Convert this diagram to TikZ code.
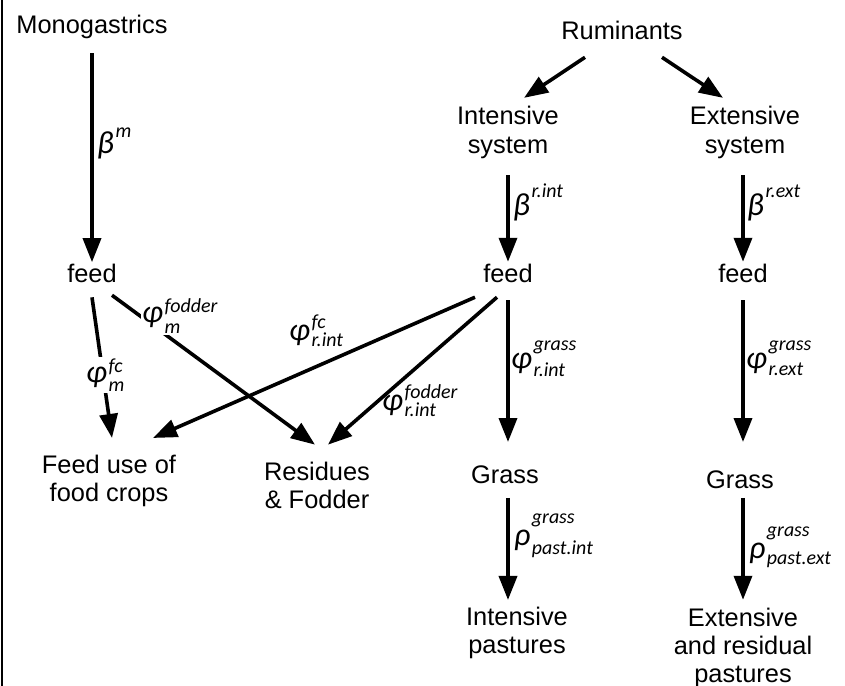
\documentclass[tikz,border=0pt]{standalone}
\usepackage{fontspec}
\setmainfont{Liberation Sans}
\newfontfamily\carlfam{Carlito}
\usetikzlibrary{arrows.meta,calc}
\newsavebox\glsupbox
\newsavebox\glsubbox
\newcommand\glbig{\fontsize{32}{32}\selectfont\carlfam\itshape}
\newcommand\glsml{\fontsize{20}{20}\selectfont\carlfam\itshape}
% base, sup, sub, raise, lower
\newcommand\glab[5]{\sbox\glsupbox{\glsml #2}\sbox\glsubbox{\glsml #3}%
  \mbox{{\glbig #1}\kern1.5bp\rlap{\raisebox{#4}{\usebox\glsupbox}}\raisebox{-#5}{\usebox\glsubbox}%
  \ifdim\wd\glsupbox>\wd\glsubbox\kern\dimexpr\wd\glsupbox-\wd\glsubbox\relax\fi}}
% base, sup, raise
\newcommand\glsup[3]{\mbox{{\glbig #1}\kern1.5bp\raisebox{#3}{\glsml #2}}}
\begin{document}
\begin{tikzpicture}[x=1bp,y=-1bp,
  box/.style={inner sep=0pt,outer sep=0pt,font=\fontsize{25.5}{28.5}\selectfont,align=center},
  arr/.style={line width=3.6bp,-{Triangle[length=24bp,width=18bp]}},
  lab/.style={inner sep=0pt,anchor=base west},
  gap/.style={fill=white,inner sep=1.5bp,anchor=base west}]
\useasboundingbox (0,0) rectangle (845,686);
\draw[line width=1.2bp] (2,0) -- (2,686);
% nodes
\node[box] (mono) at (92,26.5) {Monogastrics};
\node[box] (rum) at (622,30) {Ruminants};
\node[box] (isys) at (508,132.5) {Intensive\\system};
\node[box] (esys) at (745,132.5) {Extensive\\system};
\node[box] (feedm) at (92,273.5) {feed};
\node[box] (feedi) at (508,273.5) {feed};
\node[box] (feede) at (743,273.5) {feed};
\node[box] (fuse) at (109,481) {Feed use of\\food crops};
\node[box] (res) at (317,485.5) {Residues\\\& Fodder};
\node[box] (grassi) at (505,475) {Grass};
\node[box] (grasse) at (740,480) {Grass};
\node[box] (pasti) at (517,633) {Intensive\\pastures};
\node[box] (paste) at (743,648) {Extensive\\and residual\\pastures};
% connectors
\draw[arr] ($(mono.south)+(0,15)$) -- ($(feedm.north)+(0,-2)$);
\draw[arr] ($(rum.south)+(-37,18)$) -- ($(isys.north)+(16,-8.6)$);
\draw[arr] ($(rum.south)+(40,18)$) -- ($(esys.north)+(-22,-8.6)$);
\draw[arr] ($(isys.south)+(0,16.6)$) -- ($(feedi.north)+(0,-2.4)$);
\draw[arr] ($(esys.south -| feede.north)+(0,16.6)$) -- ($(feede.north)+(0,-2.4)$);
\draw[arr] ($(feedi.south)+(0,17.5)$) -- ($(feedi |- grassi.north)+(0,-24)$);
\draw[arr] ($(feedi |- grassi.south)+(0,14)$) -- ($(feedi |- pasti.north)+(0,-7)$);
\draw[arr] ($(feede.south)+(0,17.5)$) -- ($(feede |- grasse.north)+(0,-29)$);
\draw[arr] ($(feede |- grasse.south)+(0,9)$) -- ($(feede |- paste.north)+(0,-8)$);
\draw[arr] ($(feedm.south)+(0,14.5)$) -- ($(fuse.north)+(3,-17)$);
\draw[arr] ($(feedm.south)+(20,12.4)$) -- ($(res.north)+(-2,-17.3)$);
\draw[arr] ($(feedi.south)+(-33,14.4)$) -- ($(fuse.north)+(44,-17)$);
\draw[arr] ($(feedi.south)+(-11,14.4)$) -- ($(res.north)+(11,-17.3)$);
% labels
\node[lab] (lbm) at (97,154) {\glsup{β}{m}{16bp}};
\node[lab] (lbri) at (513,215) {\glsup{β}{r.int}{18bp}};
\node[lab] (lbre) at (747,215) {\glsup{β}{r.ext}{18bp}};
\node[lab] (lphgi) at (511,368) {\glab{φ}{grass}{r.int}{18bp}{8bp}};
\node[lab] (lphge) at (746,368) {\glab{φ}{grass}{r.ext}{18bp}{7bp}};
\node[lab] (lrhoi) at (514,545) {\glab{ρ}{grass}{past.int}{22bp}{9bp}};
\node[lab] (lrhoe) at (749,558) {\glab{ρ}{grass}{past.ext}{22bp}{6bp}};
\node[gap] (lphfcm) at (84.5,382) {\glab{φ}{fc}{m}{10bp}{9bp}};
\node[gap] (lphfm) at (140.5,322) {\glab{φ}{fodder}{m}{10bp}{11bp}};
\node[lab] (lphfci) at (289,340) {\glab{φ}{fc}{r.int}{12bp}{6bp}};
\node[lab] (lphfi) at (382,410) {\glab{φ}{fodder}{r.int}{12bp}{6bp}};
\end{tikzpicture}
\end{document}
